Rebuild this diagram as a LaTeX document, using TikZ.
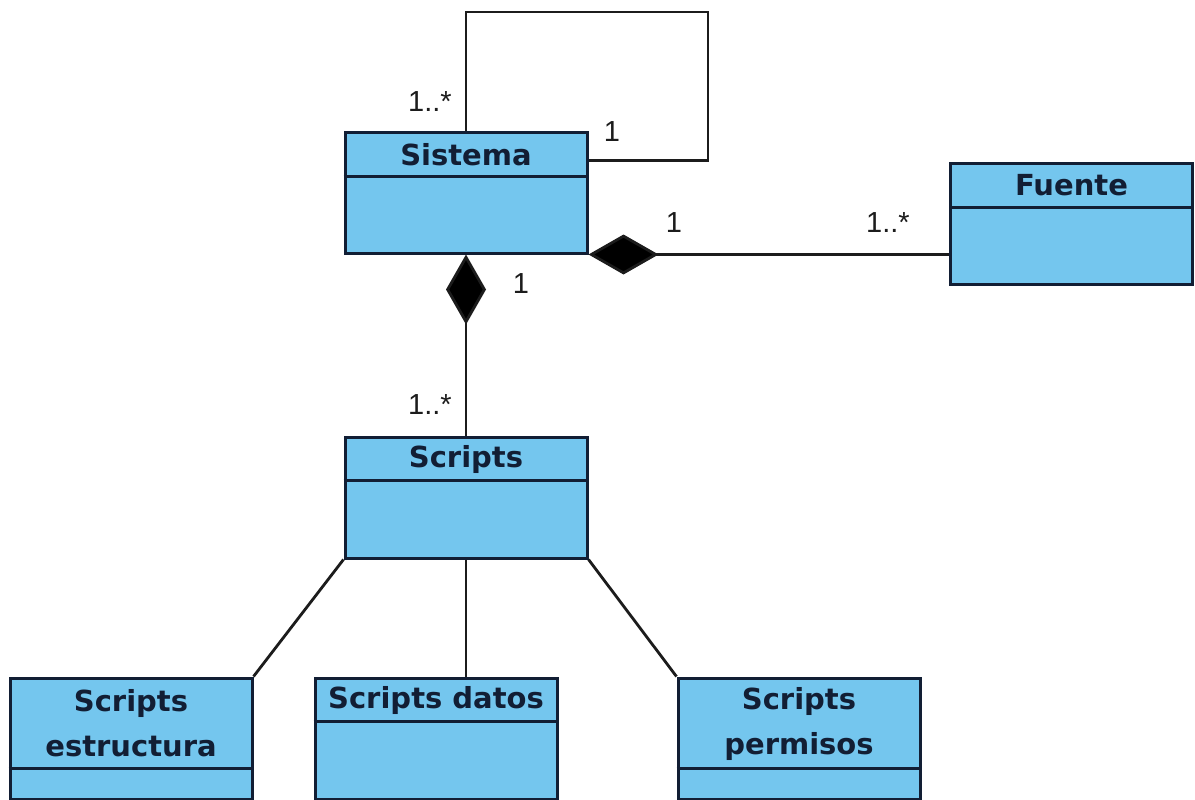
\documentclass[tikz,border=0pt]{standalone}
\usepackage{fontspec}
\setmainfont{Liberation Sans}
\newfontfamily\clasefont{DejaVu Sans}
\usepackage{tikz}
\usetikzlibrary{arrows.meta, calc}

\definecolor{clasefill}{RGB}{116,198,238}
\definecolor{claseborde}{RGB}{18,30,52}
\definecolor{linea}{RGB}{28,28,28}

\tikzset{
  clase/.style={rectangle, draw=claseborde, fill=clasefill, line width=3pt,
    minimum width=242pt, minimum height=121pt, inner sep=0pt},
  divisor/.style={draw=claseborde, line width=3pt},
  titulo/.style={font=\clasefont\bfseries\fontsize{29}{45}\selectfont,
    text=claseborde, align=center, inner sep=0pt},
  mult/.style={font=\fontsize{29}{30}\selectfont, text=linea, inner sep=0pt},
  conector/.style={draw=linea, line width=2.8pt},
  compo/.style={conector, {Diamond[length=70pt,width=40pt,fill=black]}-}
}

\begin{document}
\begin{tikzpicture}[x=1pt, y=-1pt]
  \useasboundingbox (0,0) rectangle (1195,800);
  % clases: nombre/centro x/centro y/alto cabecera/texto
  \foreach \nombre/\cx/\cy/\cab/\texto in {
      sistema/466/192.5/46/Sistema,
      fuente/1071.5/223.5/46/Fuente,
      scripts/466/497.5/45/Scripts,
      estructura/131/738.5/92/{Scripts\\estructura},
      datos/436/738.5/45/{Scripts datos},
      permisos/799/738.5/92/{Scripts\\permisos}} {
    \node[clase] (\nombre) at (\cx,\cy) {};
    \draw[divisor] (\nombre.north west) ++(0,\cab) -- ++(242,0);
    \node[titulo] (t-\nombre) at ($(\nombre.north)+(0,\cab/2+1)$) {\texto};
  }

  % relacion de Sistema consigo mismo
  \coordinate (bucle) at (708,12);
  \draw[conector] (sistema.north) |- (bucle) |- ([yshift=-30pt]sistema.north east);

  % composiciones
  \draw[compo] (sistema.south east) -- (sistema.south east -| fuente.west);
  \draw[compo] (sistema.south) -- (scripts.north);

  % hijos de Scripts
  \draw[conector] (scripts.south west) -- (estructura.north east);
  \draw[conector] (scripts.south) -- (scripts.south |- datos.north);
  \draw[conector] (scripts.south east) -- (permisos.north west);

  % multiplicidades
  \node[mult] (m-bucle1) at (430,102) {1..*};
  \node[mult] (m-bucle2) at (612,132) {1};
  \node[mult] (m-fuente1) at (674,223) {1};
  \node[mult] (m-fuente2) at (888,223) {1..*};
  \node[mult] (m-scripts1) at (521,284) {1};
  \node[mult] (m-scripts2) at (430,405) {1..*};
\end{tikzpicture}
\end{document}
